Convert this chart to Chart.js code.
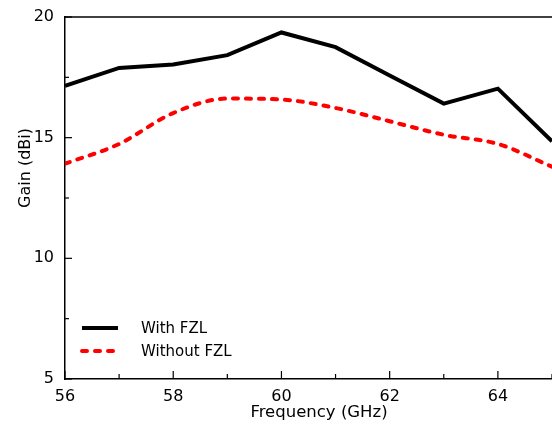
<!DOCTYPE html>
<html>
<head>
<meta charset="utf-8">
<script src="https://cdn.jsdelivr.net/npm/chart.js@4.4.1/dist/chart.umd.min.js"></script>
<style>
  html, body { margin: 0; padding: 0; background: #fff; overflow: hidden; }
  #wrap { width: 552px; height: 426px; position: relative; }
</style>
</head>
<body>
<div id="wrap"><canvas id="gain"></canvas></div>
<script>
// values
const freq = [56, 57, 58, 59, 60, 61, 62, 63, 64, 65]
const withFZL = [17.15, 17.89, 18.03, 18.42, 19.36, 18.75, 17.58, 16.41, 17.03, 14.85]
const withoutFZL = [13.92, 14.74, 16.02, 16.62, 16.58, 16.23, 15.68, 15.12, 14.74, 13.80]
const seriesNames = ['With FZL', 'Without FZL']
const xTitle = 'Frequency (GHz)'
const yTitle = 'Gain (dBi)'

const FONT = 'DejaVu Sans'

const framePlugin = {
  id: 'frame',
  afterDraw(chart) {
    const ctx = chart.ctx
    const a = chart.chartArea
    const xs = chart.scales.x
    const ys = chart.scales.y
    ctx.save()
    ctx.strokeStyle = '#000'
    ctx.lineWidth = 1.5
    // top border
    ctx.beginPath()
    ctx.moveTo(a.left, a.top)
    ctx.lineTo(a.right, a.top)
    ctx.stroke()
    // inward ticks
    ctx.lineWidth = 1.2
    xs.ticks.forEach(t => {
      const px = xs.getPixelForValue(t.value)
      const len = t.value % 2 === 0 ? 8 : 5
      ctx.beginPath()
      ctx.moveTo(px, a.bottom)
      ctx.lineTo(px, a.bottom - len)
      ctx.stroke()
    })
    ys.ticks.forEach(t => {
      const py = ys.getPixelForValue(t.value)
      const len = t.value % 5 === 0 ? 7 : 4
      ctx.beginPath()
      ctx.moveTo(a.left, py)
      ctx.lineTo(a.left + len, py)
      ctx.stroke()
    })
    // axis titles
    ctx.fillStyle = '#000'
    ctx.font = '16.5px "' + FONT + '"'
    ctx.textAlign = 'center'
    ctx.textBaseline = 'middle'
    ctx.fillText(xTitle, 319, 413)
    ctx.save()
    ctx.translate(26, 168)
    ctx.rotate(-Math.PI / 2)
    ctx.font = '16px "' + FONT + '"'
    ctx.fillText(yTitle, 0, 0)
    ctx.restore()
    // legend
    ctx.font = '15px "' + FONT + '"'
    ctx.textAlign = 'left'
    const rows = [328, 351]
    chart.data.datasets.forEach((ds, i) => {
      const y = rows[i]
      ctx.save()
      ctx.strokeStyle = ds.borderColor
      ctx.lineWidth = ds.borderWidth
      ctx.lineCap = ds.borderCapStyle || 'butt'
      ctx.setLineDash(ds.borderDash || [])
      ctx.beginPath()
      ctx.moveTo(82, y)
      ctx.lineTo(118, y)
      ctx.stroke()
      ctx.restore()
      ctx.fillText(ds.label, 141, y + 1)
    })
    ctx.restore()
  }
}

new Chart(document.getElementById('gain'), {
  type: 'line',
  data: {
    datasets: [
      {
        label: seriesNames[0],
        data: freq.map((f, i) => ({ x: f, y: withFZL[i] })),
        borderColor: '#000',
        borderWidth: 4,
        pointRadius: 0,
        tension: 0,
        borderJoinStyle: 'miter'
      },
      {
        label: seriesNames[1],
        data: freq.map((f, i) => ({ x: f, y: withoutFZL[i] })),
        borderColor: '#ff0000',
        borderWidth: 4,
        borderDash: [5, 8],
        borderCapStyle: 'round',
        pointRadius: 0,
        cubicInterpolationMode: 'monotone'
      }
    ]
  },
  options: {
    responsive: true,
    maintainAspectRatio: false,
    animation: false,
    layout: { padding: { top: 17, right: 0, left: 0, bottom: 0 } },
    plugins: {
      legend: { display: false },
      tooltip: { enabled: false }
    },
    scales: {
      x: {
        type: 'linear',
        min: 56,
        max: 65,
        grid: { display: false },
        border: { display: true, color: '#000', width: 1.5 },
        ticks: {
          stepSize: 1,
          autoSkip: false,
          maxRotation: 0,
          padding: 0,
          color: '#000',
          font: { family: FONT, size: 16 },
          callback: v => (v % 2 === 0 ? v : '')
        },
        afterFit(scale) {
          scale.height = 47
          scale.paddingRight = 0
          scale.paddingLeft = 0
        }
      },
      y: {
        min: 5,
        max: 20,
        grid: { display: false },
        border: { display: true, color: '#000', width: 1.5 },
        ticks: {
          stepSize: 2.5,
          padding: 3,
          color: '#000',
          font: { family: FONT, size: 16 },
          callback: v => (v % 5 === 0 ? v : '')
        },
        afterFit(scale) { scale.width = 65 }
      }
    }
  },
  plugins: [framePlugin]
});
</script>
</body>
</html>
